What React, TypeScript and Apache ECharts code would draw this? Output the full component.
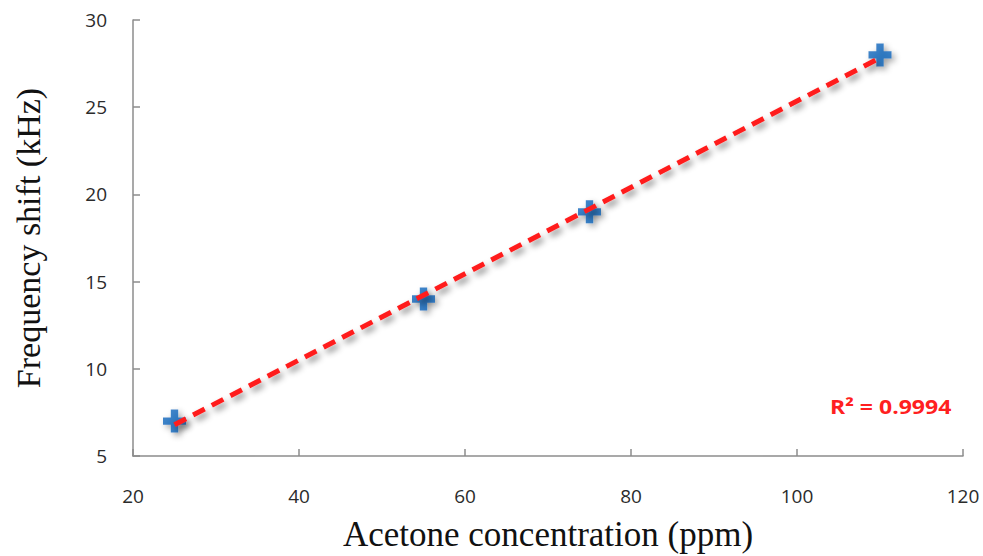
import React, { useEffect, useRef } from "react";
import * as echarts from "echarts";

// Measured frequency shift at each acetone concentration
const concentrations = [25, 55, 75, 110];
const frequencyShift = [7, 14, 19, 28];
const xTicks = [20, 40, 60, 80, 100, 120];
const yTicks = [5, 10, 15, 20, 25, 30];
const rSquaredLabel = "R² = 0.9994";

// Least-squares fit through the measurements
function linearFit(xs: number[], ys: number[]) {
  const n = xs.length;
  const mx = xs.reduce((a, b) => a + b, 0) / n;
  const my = ys.reduce((a, b) => a + b, 0) / n;
  let sxy = 0;
  let sxx = 0;
  for (let i = 0; i < n; i++) {
    sxy += (xs[i] - mx) * (ys[i] - my);
    sxx += (xs[i] - mx) * (xs[i] - mx);
  }
  const slope = sxy / sxx;
  return { slope, intercept: my - slope * mx };
}

const PLUS =
  "path://M-1.6,-5 L1.6,-5 L1.6,-1.6 L5,-1.6 L5,1.6 L1.6,1.6 L1.6,5 L-1.6,5 L-1.6,1.6 L-5,1.6 L-5,-1.6 L-1.6,-1.6 Z";

export default function App() {
  const ref = useRef<HTMLDivElement>(null);

  useEffect(() => {
    if (!ref.current) return;
    const chart = echarts.init(ref.current, undefined, { renderer: "svg" });
    const { slope, intercept } = linearFit(concentrations, frequencyShift);
    const x0 = Math.min(...concentrations);
    const x1 = Math.max(...concentrations);
    const fitLine = [
      [x0, intercept + slope * x0],
      [x1, intercept + slope * x1],
    ];

    const axisColor = "#8c8c8c";
    const axisLine = { show: true, lineStyle: { color: axisColor, width: 1.5 } };
    const axisTick = { show: true, inside: true, length: 7, lineStyle: { color: axisColor, width: 1.5 } };
    const tickFont = {
      color: "#2b2b2b",
      fontFamily: "'Open Sans', 'Noto Sans', sans-serif",
      fontSize: 19,
    };
    const titleFont = {
      color: "#111111",
      fontFamily: "'Liberation Serif', 'DejaVu Serif', serif",
    };

    chart.setOption({
      animation: false,
      backgroundColor: "#ffffff",
      grid: {
        left: 133,
        right: 20,
        top: 20,
        bottom: 100,
        containLabel: false,
        outerBoundsMode: "none",
      },
      xAxis: {
        type: "value",
        min: xTicks[0],
        max: xTicks[xTicks.length - 1],
        interval: xTicks[1] - xTicks[0],
        axisLine,
        axisTick,
        splitLine: { show: false },
        axisLabel: { ...tickFont, margin: 30 },
        name: "Acetone concentration (ppm)",
        nameLocation: "middle",
        nameGap: 61,
        nameTextStyle: { ...titleFont, fontSize: 35 },
      },
      yAxis: {
        type: "value",
        min: yTicks[0],
        max: yTicks[yTicks.length - 1],
        interval: yTicks[1] - yTicks[0],
        axisLine,
        axisTick,
        splitLine: { show: false },
        axisLabel: { ...tickFont, margin: 26 },
        name: "Frequency shift (kHz)",
        nameLocation: "middle",
        nameGap: 88,
        nameRotate: 90,
        nameTextStyle: { ...titleFont, fontSize: 34 },
      },
      series: [
        {
          type: "scatter",
          data: concentrations.map((c, i) => [c, frequencyShift[i]]),
          symbol: PLUS,
          symbolSize: 23,
          itemStyle: {
            color: "#1367bb",
            shadowBlur: 6,
            shadowColor: "rgba(0,0,0,0.45)",
            shadowOffsetX: 3,
            shadowOffsetY: 3,
          },
          z: 2,
        },
        {
          type: "line",
          data: fitLine,
          symbol: "none",
          lineStyle: {
            color: "#ff1f1f",
            width: 5,
            type: [13, 8],
            shadowBlur: 6,
            shadowColor: "rgba(0,0,0,0.45)",
            shadowOffsetX: 3,
            shadowOffsetY: 4,
          },
          z: 3,
        },
      ],
      graphic: [
        {
          type: "text",
          x: 830,
          y: 396,
          scaleX: 1.15,
          style: {
            text: rSquaredLabel,
            fill: "#ff2020",
            font: "bold 20px 'Open Sans', 'Noto Sans', sans-serif",
          },
        },
      ],
    });

    return () => chart.dispose();
  }, []);

  return (
    <div
      ref={ref}
      style={{ position: "absolute", left: 0, top: 0, width: 983, height: 556 }}
    />
  );
}
